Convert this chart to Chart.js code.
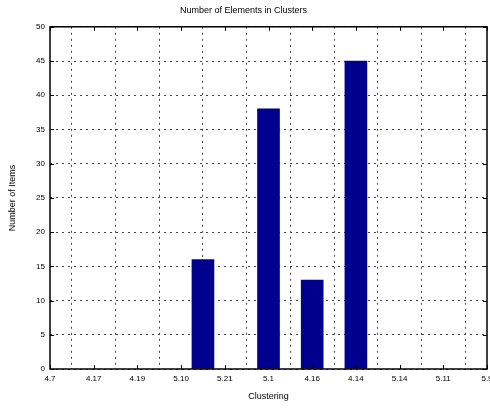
<!DOCTYPE html>
<html>
<head>
<meta charset="utf-8">
<script src="https://cdn.jsdelivr.net/npm/chart.js@4/dist/chart.umd.min.js"></script>
<style>
html,body{margin:0;padding:0;background:#fff;}
#wrap{width:490px;height:410px;}
</style>
</head>
<body>
<div id="wrap"><canvas id="c" width="490" height="410"></canvas></div>
<script>
// Data
const xTickLabels = ['4.7','4.17','4.19','5.10','5.21','5.1','4.16','4.14','5.14','5.11','5.9'];
const barPositions = [3.5, 5, 6, 7];
const barValues = [16, 38, 13, 45];
const yTicks = [0,5,10,15,20,25,30,35,40,45,50];
const titleText = 'Number of Elements in Clusters';
const xTitle = 'Clustering';
const yTitle = 'Number of Items';

const FONT = 'Liberation Sans, Arial, sans-serif';

const boxPlugin = {
  id: 'boxPlugin',
  afterDatasetsDraw(chart) {
    const {ctx, chartArea: a, scales} = chart;
    ctx.save();
    ctx.strokeStyle = '#000';
    ctx.lineWidth = 1;
    ctx.beginPath();
    scales.x.ticks.forEach(t => {
      const px = Math.round(scales.x.getPixelForValue(t.value)) + 0.5;
      ctx.moveTo(px, a.bottom); ctx.lineTo(px, a.bottom - 4);
      ctx.moveTo(px, a.top); ctx.lineTo(px, a.top + 4);
    });
    scales.y.ticks.forEach(t => {
      const py = Math.round(scales.y.getPixelForValue(t.value)) + 0.5;
      ctx.moveTo(a.left, py); ctx.lineTo(a.left + 4, py);
      ctx.moveTo(a.right, py); ctx.lineTo(a.right - 4, py);
    });
    ctx.stroke();
    ctx.lineWidth = 1.5;
    ctx.strokeRect(a.left, a.top, a.right - a.left, a.bottom - a.top);
    ctx.restore();
  }
};

new Chart(document.getElementById('c'), {
  type: 'bar',
  data: {
    datasets: [{
      data: barPositions.map((x, i) => ({x: x, y: barValues[i]})),
      backgroundColor: '#00008f',
      borderWidth: 0,
      barThickness: 22
    }]
  },
  options: {
    responsive: false,
    animation: false,
    devicePixelRatio: 1,
    layout: {padding: {top: 0, right: 3, left: 0, bottom: 0}},
    plugins: {
      legend: {display: false},
      tooltip: {enabled: false},
      title: {
        display: true,
        text: titleText,
        color: '#000',
        font: {family: FONT, size: 9, weight: 'normal'},
        padding: {top: 5, bottom: 11}
      }
    },
    scales: {
      x: {
        type: 'linear',
        min: 0, max: 10,
        offset: false,
        afterBuildTicks(scale) {
          scale.ticks = xTickLabels.map((l, i) => ({value: i}));
        },
        afterFit(scale) { scale.height = 41; scale.paddingLeft = 0; scale.paddingRight = 0; },
        ticks: {
          callback: (v, i) => xTickLabels[i],
          color: '#000',
          font: {family: FONT, size: 8},
          maxRotation: 0,
          autoSkip: false,
          padding: 5
        },
        grid: {color: '#444', lineWidth: 1, drawTicks: false},
        border: {display: false, dash: [2, 4]},
        title: {display: true, text: xTitle, color: '#000', font: {family: FONT, size: 9}, padding: {top: 3, bottom: 8}}
      },
      y: {
        min: 0, max: 50,
        afterBuildTicks(scale) {
          scale.ticks = yTicks.map(v => ({value: v}));
        },
        afterFit(scale) { scale.width = 50; },
        ticks: {
          color: '#000',
          font: {family: FONT, size: 8},
          padding: 5
        },
        grid: {color: '#444', lineWidth: 1, drawTicks: false},
        border: {display: false, dash: [2, 4]},
        title: {display: true, text: yTitle, color: '#000', font: {family: FONT, size: 9}, padding: {top: 7, bottom: 4}}
      }
    }
  },
  plugins: [boxPlugin]
});
</script>
</body>
</html>
